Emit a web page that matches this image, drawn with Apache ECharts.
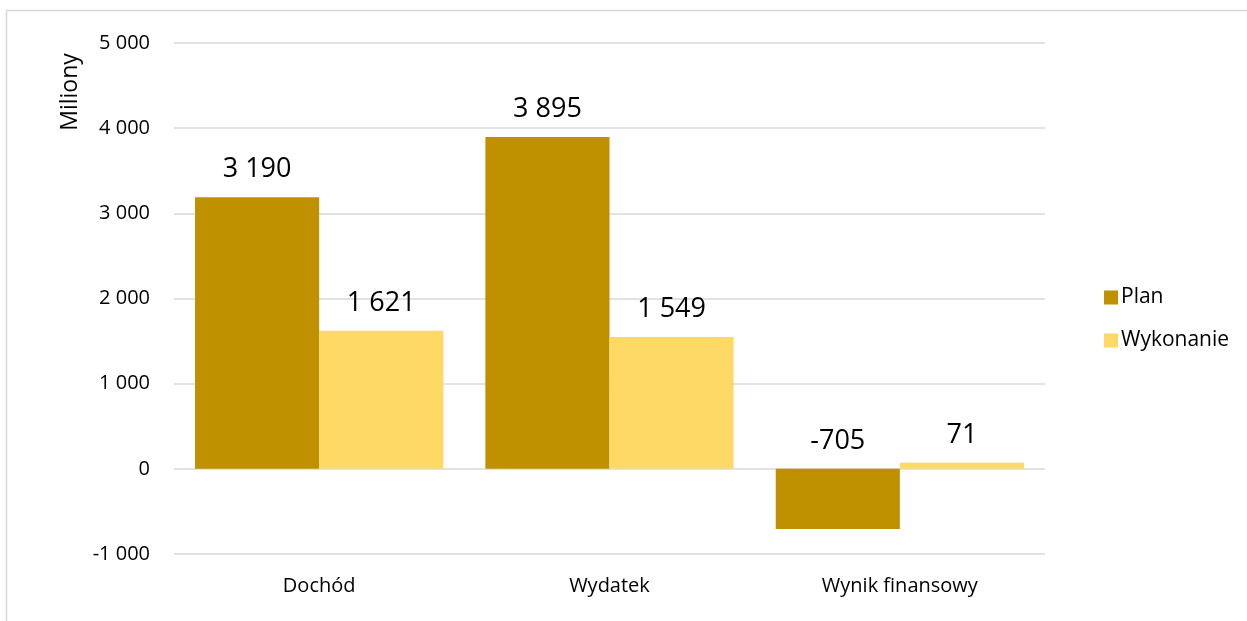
<!DOCTYPE html>
<html>
<head>
<meta charset="utf-8">
<script src="https://cdn.jsdelivr.net/npm/echarts@6/dist/echarts.min.js"></script>
<style>
  html, body { margin: 0; padding: 0; background: #fff; }
  #chart { width: 1247px; height: 621px; }
</style>
</head>
<body>
<div id="chart"></div>
<script>
var categories = ['Dochód', 'Wydatek', 'Wynik finansowy'];
var planValues = [3190, 3895, -705];
var wykonanieValues = [1621, 1549, 71];
var yTicks = [-1000, 5000, 1000]; // min, max, interval

var colors = { plan: '#bf9000', wykonanie: '#ffd966' };
var font = "'Open Sans', 'Liberation Sans', sans-serif";

function fmt(v) {
  var s = String(Math.abs(v)).replace(/\B(?=(\d{3})+(?!\d))/g, ' ');
  return (v < 0 ? '-' : '') + s;
}

var myChart = echarts.init(document.getElementById('chart'));

var labelStyle = {
  show: true,
  position: 'top',
  distance: 14,
  fontSize: 27,
  color: '#000',
  fontFamily: font,
  formatter: function (p) { return fmt(p.value); }
};

var option = {
  animation: false,
  grid: { left: 174, right: 202, top: 43, bottom: 67, outerBoundsMode: 'none', containLabel: false },
  graphic: [
    { type: 'rect', shape: { x: 6.5, y: 10.5, width: 1260, height: 700 },
      style: { fill: 'none', stroke: '#d9d9d9', lineWidth: 1.5 }, silent: true },
    { type: 'text', x: 70, y: 92, rotation: Math.PI / 2,
      style: { text: 'Miliony', fontSize: 23, fontFamily: font, fill: '#000', align: 'center', verticalAlign: 'middle' } }
  ],
  legend: {
    orient: 'vertical',
    left: 1099,
    top: 282,
    itemWidth: 14,
    itemHeight: 14,
    itemGap: 22,
    icon: 'rect',
    textStyle: { fontSize: 21, color: '#000', fontFamily: font, padding: [0, 0, 0, -2] },
    data: ['Plan', 'Wykonanie']
  },
  xAxis: {
    type: 'category',
    data: categories,
    axisLine: { show: false },
    axisTick: { show: false },
    axisLabel: { fontSize: 20, color: '#000', fontFamily: font, margin: 22 }
  },
  yAxis: {
    type: 'value',
    min: yTicks[0],
    max: yTicks[1],
    interval: yTicks[2],
    axisLine: { show: false },
    axisTick: { show: false },
    axisLabel: { fontSize: 20, color: '#000', fontFamily: font, margin: 24, formatter: fmt },
    splitLine: { lineStyle: { color: '#d9d9d9', width: 1.5 } }
  },
  series: [
    {
      name: 'Plan',
      type: 'bar',
      data: planValues,
      barGap: '0%',
      barCategoryGap: '14.5%',
      itemStyle: { color: colors.plan },
      label: labelStyle
    },
    {
      name: 'Wykonanie',
      type: 'bar',
      data: wykonanieValues,
      itemStyle: { color: colors.wykonanie },
      label: labelStyle
    }
  ]
};

myChart.setOption(option);
</script>
</body>
</html>
